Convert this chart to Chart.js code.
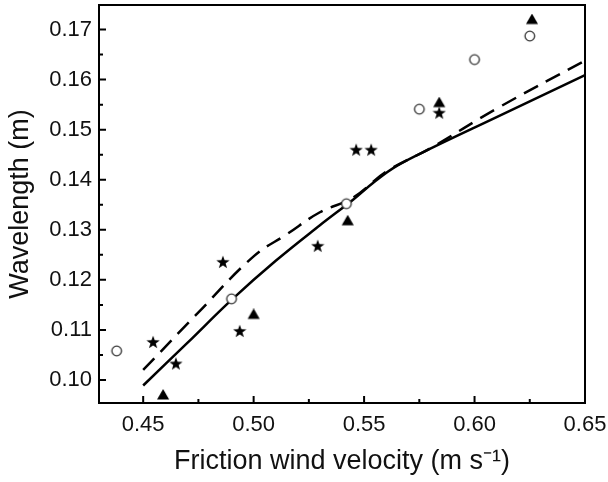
<!DOCTYPE html>
<html lang="en">
<head>
  <meta charset="UTF-8" />
  <title>Wavelength vs friction wind velocity</title>
  <script src="https://cdn.jsdelivr.net/npm/chart.js"></script>
  <style>
    html, body { margin: 0; padding: 0; background: #fff; }
    #wrap { width: 608px; height: 482px; }
  </style>
</head>
<body>
  <div id="wrap"><canvas id="waveChart" width="608" height="482"></canvas></div>

  <script>
    // measured wavelengths (m) against friction velocity (m/s)
    const circleX = [0.438, 0.490, 0.542, 0.575, 0.600, 0.625];
    const circleY = [0.1058, 0.1162, 0.1352, 0.1541, 0.1640, 0.1687];

    const triX = [0.459, 0.500, 0.5426, 0.584, 0.626];
    const triY = [0.0968, 0.1129, 0.1316, 0.1552, 0.1718];

    const starX = [0.4545, 0.4648, 0.4861, 0.4937, 0.529, 0.5464, 0.5532, 0.584];
    const starY = [0.1076, 0.1033, 0.1236, 0.1098, 0.1268, 0.1460, 0.1460, 0.1534];

    // model curves
    const solidX = [0.45, 0.47, 0.49, 0.51, 0.53, 0.545, 0.555, 0.565, 0.58, 0.61, 0.65];
    const solidY = [0.0989, 0.1074, 0.1160, 0.1238, 0.1309, 0.1360, 0.1397, 0.1428, 0.1462, 0.1525, 0.1609];

    const dashX = [0.45, 0.475, 0.50, 0.515, 0.53, 0.545, 0.56, 0.58, 0.61, 0.65];
    const dashY = [0.1020, 0.1135, 0.1247, 0.1291, 0.1335, 0.1364, 0.1416, 0.1463, 0.1542, 0.1638];

    // axis ticks
    const xTicks = [0.45, 0.50, 0.55, 0.60, 0.65];
    const xMinor = [0.475, 0.525, 0.575, 0.625];
    const yTicks = [0.10, 0.11, 0.12, 0.13, 0.14, 0.15, 0.16, 0.17];
    const yMinor = [0.105, 0.115, 0.125, 0.135, 0.145, 0.155, 0.165];

    const pts = (xs, ys) => xs.map((x, i) => ({ x: x, y: ys[i] }));

    // marker sprites (drawn as image point styles so they don't pad the chart area)
    function marker(kind) {
      const size = 14, c = document.createElement("canvas");
      c.width = c.height = size;
      const g = c.getContext("2d");
      const m = size / 2;
      g.beginPath();
      if (kind === "circle") {
        g.arc(m, m, 4.8, 0, Math.PI * 2);
        g.fillStyle = "#fff";
        g.fill();
        g.lineWidth = 1.3;
        g.strokeStyle = "#333";
        g.stroke();
        return c;
      }
      if (kind === "triangle") {
        for (let i = 0; i < 3; i++) {
          const a = -Math.PI / 2 + i * 2 * Math.PI / 3;
          g.lineTo(m + 7 * Math.cos(a), m + 7 * Math.sin(a));
        }
      } else {
        const R = 7, r = R * 0.4, cy = m + R * 0.09;
        for (let i = 0; i < 10; i++) {
          const rad = i % 2 ? r : R;
          const a = -Math.PI / 2 + i * Math.PI / 5;
          g.lineTo(m + rad * Math.cos(a), cy + rad * Math.sin(a));
        }
      }
      g.closePath();
      g.fillStyle = "#000";
      g.fill();
      return c;
    }

    // box frame plus inward major/minor ticks
    const framePlugin = {
      id: "frame",
      afterDraw(chart) {
        const { ctx, chartArea: a, scales: { x, y } } = chart;
        ctx.save();
        ctx.strokeStyle = "#000";
        ctx.lineWidth = 2;
        ctx.strokeRect(a.left, a.top, a.right - a.left, a.bottom - a.top);
        ctx.beginPath();
        xTicks.forEach(v => { const p = x.getPixelForValue(v); ctx.moveTo(p, a.bottom); ctx.lineTo(p, a.bottom - 7); });
        xMinor.forEach(v => { const p = x.getPixelForValue(v); ctx.moveTo(p, a.bottom); ctx.lineTo(p, a.bottom - 4); });
        yTicks.forEach(v => { const p = y.getPixelForValue(v); ctx.moveTo(a.left, p); ctx.lineTo(a.left + 7, p); });
        yMinor.forEach(v => { const p = y.getPixelForValue(v); ctx.moveTo(a.left, p); ctx.lineTo(a.left + 4, p); });
        ctx.stroke();
        ctx.restore();
      }
    };

    Chart.defaults.font.family = "'Liberation Sans', Arial, sans-serif";
    Chart.defaults.color = "#111";

    new Chart(document.getElementById("waveChart"), {
      type: "scatter",
      data: {
        datasets: [
          { data: pts(circleX, circleY), pointStyle: marker("circle"), pointRadius: 1 },
          { data: pts(triX, triY), pointStyle: marker("triangle"), pointRadius: 1 },
          { data: pts(starX, starY), pointStyle: marker("star"), pointRadius: 1 },
          {
            data: pts(solidX, solidY),
            showLine: true,
            pointRadius: 0,
            borderColor: "#000",
            borderWidth: 2.5,
            tension: 0.4
          },
          {
            data: pts(dashX, dashY),
            showLine: true,
            pointRadius: 0,
            borderColor: "#000",
            borderWidth: 2.5,
            borderDash: [16, 9],
            tension: 0.4
          }
        ]
      },
      options: {
        responsive: false,
        animation: false,
        layout: { padding: { left: 0, top: 3, right: 23, bottom: 4 } },
        plugins: { legend: { display: false }, tooltip: { enabled: false } },
        scales: {
          x: {
            type: "linear",
            min: 0.43,
            max: 0.65,
            grid: { display: false, drawTicks: false },
            border: { display: false },
            afterBuildTicks: s => { s.ticks = xTicks.map(v => ({ value: v })); },
            afterFit: s => { s.height = 75; s.paddingLeft = 0; s.paddingRight = 0; },
            ticks: { font: { size: 22 }, padding: 9, maxRotation: 0, autoSkip: false, callback: v => v.toFixed(2) },
            title: { display: true, text: "Friction wind velocity (m s\u207B\u00B9)", font: { size: 27 }, padding: { top: 0, bottom: 0 } }
          },
          y: {
            type: "linear",
            min: 0.0954,
            max: 0.1749,
            grid: { display: false, drawTicks: false },
            border: { display: false },
            afterBuildTicks: s => { s.ticks = yTicks.map(v => ({ value: v })); },
            afterFit: s => { s.width = 99; s.paddingTop = 0; s.paddingBottom = 0; },
            ticks: { font: { size: 22 }, padding: 7, autoSkip: false, callback: v => v.toFixed(2) },
            title: { display: true, text: "Wavelength (m)", font: { size: 27 }, padding: { top: 4, bottom: 0 } }
          }
        }
      },
      plugins: [framePlugin]
    });
  </script>
</body>
</html>
